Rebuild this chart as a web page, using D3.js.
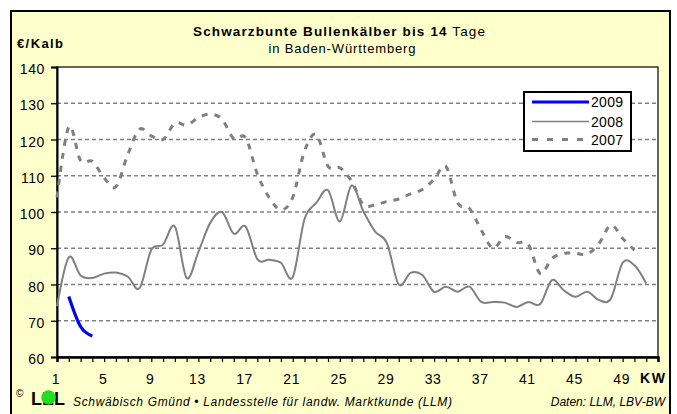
<!DOCTYPE html>
<html><head><meta charset="utf-8">
<script src="https://cdn.jsdelivr.net/npm/d3@7"></script>
<style>
html,body{margin:0;padding:0;background:#fff;}
text{font-family:"Liberation Sans",Arial,sans-serif;}
</style></head>
<body><svg id="c" width="677" height="414"></svg>
<script>
// ---- data ----
const weeks2009 = [2, 3, 4];
const values2009 = [76.7, 68.4, 65.8];
const weeks2008 = [1,2,3,4,5,6,7,8,9,10,11,12,13,14,15,16,17,18,19,20,21,22,23,24,25,26,27,28,29,30,31,32,33,34,35,36,37,38,39,40,41,42,43,44,45,46,47,48,49,50,51];
const values2008 = [74,87.5,82.5,81.8,83,83.3,82.2,79,89.5,91,96,81.8,89,97,100,94,96,87,86.8,86,82,98,102.5,106,97.4,107.3,100.2,94.6,91.4,80,83.2,82.6,78,79.4,78,79.4,75.2,75.2,75,73.8,75.2,74.6,81.2,78.4,76.6,78,75.7,76.1,86,85.3,80.3];
const weeks2007 = [1,2,3,4,5,6,7,8,9,10,11,12,13,14,15,16,17,18,19,20,21,22,23,24,25,26,27,28,29,30,31,32,33,34,35,36,37,38,39,40,41,42,43,44,45,46,47,48,49,50];
const values2007 = [104,123.5,114.2,114,109.4,107,115.8,122.8,121,120,124.5,124,126,127,125.6,120.2,120.5,110.5,104,100.6,104,116.8,121.4,112.6,112.2,108.5,102,102,102.9,103.6,105,106.2,109,112.6,102.5,101,95,90,93.2,91.6,91,83,87.2,88.6,88.6,88.4,91.3,96.4,92.7,89.5];
const seriesNames = ["2009","2008","2007"];
const xTickLabels = [1,5,9,13,17,21,25,29,33,37,41,45,49];
const yTickValues = [60,70,80,90,100,110,120,130,140];
const allWeeks = [1,2,3,4,5,6,7,8,9,10,11,12,13,14,15,16,17,18,19,20,21,22,23,24,25,26,27,28,29,30,31,32,33,34,35,36,37,38,39,40,41,42,43,44,45,46,47,48,49,50,51,52];
const titleBold = "Schwarzbunte Bullenkälber bis 14";
const titleRest = " Tage";
const subtitle = "in Baden-Württemberg";
const yUnit = "€/Kalb";
const xUnit = "KW";
const logoText = "LEL";
const footerLeft = "Schwäbisch Gmünd • Landesstelle für landw. Marktkunde (LLM)";
const footerRight = "Daten: LLM, LBV-BW";

// ---- layout ----
const L = 57, R = 658, T = 67, B = 357;
const svg = d3.select("#c");
const x = d3.scaleLinear().domain([1, 52]).range([L, R]);
const y = d3.scaleLinear().domain([60, 140]).range([B, T]);

// frame
svg.append("rect").attr("x", 11).attr("y", 11).attr("width", 659).attr("height", 420)
  .attr("fill", "#FFFFCC").attr("stroke", "#000").attr("stroke-width", 2);

// plot area
svg.append("rect").attr("x", L).attr("y", T).attr("width", R - L).attr("height", B - T)
  .attr("fill", "#fff").attr("stroke", "#000").attr("stroke-width", 1.2);

// gridlines
svg.append("g").selectAll("line").data(yTickValues.filter(v => v > 60 && v < 140)).join("line")
  .attr("x1", L).attr("x2", R).attr("y1", d => y(d)).attr("y2", d => y(d))
  .attr("stroke", "#808080").attr("stroke-width", 1.3).attr("stroke-dasharray", "4,3");

// y axis
const yAxis = d3.axisLeft(y).tickValues(yTickValues).tickSize(6).tickFormat(d3.format("d"));
const gy = svg.append("g").attr("transform", `translate(${L},0)`).call(yAxis);
gy.select(".domain").attr("stroke", "#000").attr("stroke-width", 2);
gy.selectAll(".tick line").attr("stroke", "#000").attr("stroke-width", 1.3);
gy.selectAll(".tick text").attr("x", -12).attr("dy", "0.48em")
  .style("font-size", "14px").style("letter-spacing", "0.6px").attr("fill", "#000")
  .style("font-family", '"Liberation Sans",Arial,sans-serif');

// x axis
const xAxis = d3.axisBottom(x).tickValues(allWeeks).tickSize(5)
  .tickFormat(d => xTickLabels.includes(d) ? d : "");
const gx = svg.append("g").attr("transform", `translate(0,${B})`).call(xAxis);
gx.select(".domain").attr("stroke", "#000").attr("stroke-width", 2.5);
gx.selectAll(".tick line").attr("stroke", "#000").attr("stroke-width", 1.2);
gx.selectAll(".tick text").attr("y", 17).attr("dy", "0.71em").attr("x", -1.5)
  .style("font-size", "14px").style("letter-spacing", "0.6px").attr("fill", "#000")
  .style("font-family", '"Liberation Sans",Arial,sans-serif');

// lines
const line = d3.line().x(d => x(d[0])).y(d => y(d[1])).curve(d3.curveCardinal.tension(0));
const pairs = (w, v) => w.map((wk, i) => [wk, v[i]]);
svg.append("path").datum(pairs(weeks2007, values2007)).attr("d", line)
  .attr("fill", "none").attr("stroke", "#808080").attr("stroke-width", 3).attr("stroke-dasharray", "6,7");
svg.append("path").datum(pairs(weeks2008, values2008)).attr("d", line)
  .attr("fill", "none").attr("stroke", "#808080").attr("stroke-width", 2);
svg.append("path").datum(pairs(weeks2009, values2009)).attr("d", line)
  .attr("fill", "none").attr("stroke", "#0000FF").attr("stroke-width", 3.2);

// legend
const lg = svg.append("g");
lg.append("rect").attr("x", 524).attr("y", 92).attr("width", 107).attr("height", 59)
  .attr("fill", "#fff").attr("stroke", "#000").attr("stroke-width", 2);
const legStyles = [
  {c: "#0000FF", w: 3.2, dash: null, y: 102},
  {c: "#808080", w: 1.5, dash: null, y: 121.5},
  {c: "#808080", w: 3, dash: "6,9", y: 139.5}
];
seriesNames.forEach((n, i) => {
  const s = legStyles[i];
  const ln = lg.append("line").attr("x1", 532).attr("x2", 589).attr("y1", s.y).attr("y2", s.y)
    .attr("stroke", s.c).attr("stroke-width", s.w);
  if (s.dash) ln.attr("stroke-dasharray", s.dash);
  lg.append("text").attr("x", 591).attr("y", s.y + 5).text(n)
    .style("font-size", "14px").style("letter-spacing", "0.3px");
});

// titles
const tt = svg.append("text").attr("x", 339).attr("y", 36).attr("text-anchor", "middle")
  .style("font-size", "13.5px").attr("textLength", 292).attr("lengthAdjust", "spacing");
tt.append("tspan").attr("font-weight", "bold").text(titleBold);
tt.append("tspan").text(titleRest);
svg.append("text").attr("x", 342).attr("y", 53).attr("text-anchor", "middle")
  .style("font-size", "13px").attr("textLength", 147).attr("lengthAdjust", "spacing").text(subtitle);
svg.append("text").attr("x", 17).attr("y", 48).style("font-size", "13px").attr("font-weight", "bold")
  .attr("textLength", 46).attr("lengthAdjust", "spacing").text(yUnit);
svg.append("text").attr("x", 640).attr("y", 383).style("font-size", "14px").attr("font-weight", "bold")
  .attr("textLength", 25).attr("lengthAdjust", "spacing").text(xUnit);

// footer
svg.append("text").attr("x", 16).attr("y", 397).style("font-size", "10px").text("©");
svg.append("text").attr("x", 31).attr("y", 405).style("font-size", "18px").attr("font-weight", "bold")
  .attr("textLength", 34).attr("lengthAdjust", "spacing").text(logoText);
svg.append("circle").attr("cx", 48.5).attr("cy", 397.5).attr("r", 7.2).attr("fill", "#22DD22");
svg.append("text").attr("x", 73).attr("y", 406).style("font-size", "12px").style("font-style", "italic")
  .attr("textLength", 379).attr("lengthAdjust", "spacing").text(footerLeft);
svg.append("text").attr("x", 665).attr("y", 406).attr("text-anchor", "end").style("font-size", "12px")
  .style("font-style", "italic").text(footerRight);
</script></body></html>
